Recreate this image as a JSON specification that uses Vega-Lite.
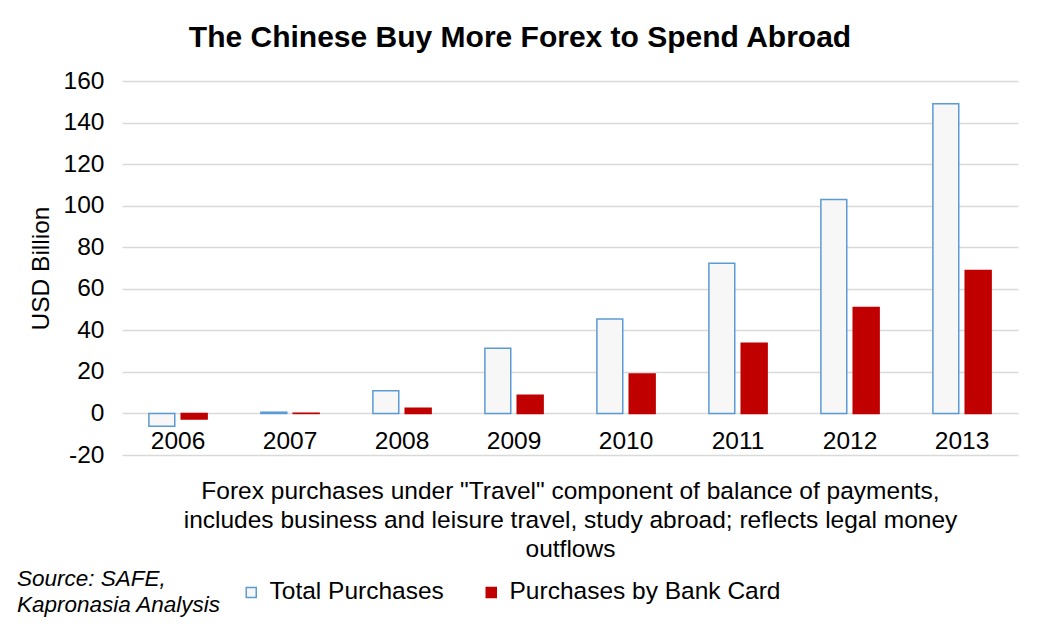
{
  "$schema": "https://vega.github.io/schema/vega-lite/v6.json",
  "width": 896,
  "height": 374,
  "autosize": {"type": "none"},
  "padding": {"left": 122, "top": 81, "right": 24, "bottom": 176},
  "background": "white",
  "config": {
    "view": {"stroke": null},
    "font": "Liberation Sans"
  },
  "title": {
    "text": "The Chinese Buy More Forex to Spend Abroad",
    "fontSize": 30,
    "fontWeight": "bold",
    "font": "Liberation Sans",
    "color": "black",
    "anchor": "middle",
    "dx": -50,
    "offset": 15
  },
  "data": {
    "values": [
      {"year": "2006", "series": "Total Purchases", "value": -6.2},
      {"year": "2006", "series": "Purchases by Bank Card", "value": -2.7},
      {"year": "2007", "series": "Total Purchases", "value": 0.6},
      {"year": "2007", "series": "Purchases by Bank Card", "value": 0.1},
      {"year": "2008", "series": "Total Purchases", "value": 10.9},
      {"year": "2008", "series": "Purchases by Bank Card", "value": 2.5},
      {"year": "2009", "series": "Total Purchases", "value": 31.4},
      {"year": "2009", "series": "Purchases by Bank Card", "value": 8.8},
      {"year": "2010", "series": "Total Purchases", "value": 45.4},
      {"year": "2010", "series": "Purchases by Bank Card", "value": 19.0},
      {"year": "2011", "series": "Total Purchases", "value": 72.3},
      {"year": "2011", "series": "Purchases by Bank Card", "value": 33.8},
      {"year": "2012", "series": "Total Purchases", "value": 103.0},
      {"year": "2012", "series": "Purchases by Bank Card", "value": 51.0},
      {"year": "2013", "series": "Total Purchases", "value": 149.0},
      {"year": "2013", "series": "Purchases by Bank Card", "value": 68.8}
    ]
  },
  "mark": {"type": "bar", "strokeWidth": 1.5},
  "encoding": {
    "x": {
      "field": "year",
      "type": "nominal",
      "scale": {"paddingInner": 0.48, "paddingOuter": 0.24},
      "axis": {
        "offset": -41.6,
        "domain": false,
        "ticks": false,
        "labelAngle": 0,
        "labelFontSize": 24.5,
        "labelColor": "black",
        "labelPadding": 16,
        "title": [
          "Forex purchases under \"Travel\" component of balance of payments,",
          "includes business and leisure travel, study abroad; reflects legal money",
          "outflows"
        ],
        "titleFontSize": 24.5,
        "titleFontWeight": "normal",
        "titleColor": "black",
        "titleLineHeight": 29,
        "titleBaseline": "top",
        "titleLimit": 1000,
        "titleY": 66
      }
    },
    "xOffset": {
      "field": "series",
      "type": "nominal",
      "sort": ["Total Purchases", "Purchases by Bank Card"],
      "scale": {"paddingInner": 0.2}
    },
    "y": {
      "field": "value",
      "type": "quantitative",
      "scale": {"domain": [-20, 160], "nice": false},
      "axis": {
        "values": [-20, 0, 20, 40, 60, 80, 100, 120, 140, 160],
        "labelExpr": "toString(datum.value)",
        "domain": false,
        "ticks": false,
        "gridColor": "#d9d9d9",
        "gridWidth": 1.5,
        "labelFontSize": 24.5,
        "labelColor": "black",
        "labelPadding": 18,
        "title": "USD Billion",
        "titleFontSize": 24.5,
        "titleFontWeight": "normal",
        "titleColor": "black",
        "titlePadding": 10
      }
    },
    "fill": {
      "field": "series",
      "type": "nominal",
      "sort": ["Total Purchases", "Purchases by Bank Card"],
      "scale": {"range": ["#f7f7f7", "#c00000"]},
      "legend": {
        "orient": "none",
        "direction": "horizontal",
        "legendX": -105,
        "legendY": 499,
        "title": ["Source: SAFE,", "Kapronasia Analysis"],
        "titleOrient": "left",
        "titleFontStyle": "italic",
        "titleFontWeight": "normal",
        "titleFontSize": 22.5,
        "titleColor": "black",
        "titleLineHeight": 26,
        "titleLimit": 400,
        "titlePadding": 18,
        "symbolType": "square",
        "symbolSize": 100,
        "symbolStrokeWidth": 1.5,
        "labelFontSize": 24.5,
        "labelColor": "black",
        "labelLimit": 400,
        "labelOffset": 6,
        "columnPadding": 35,
        "encode": {
          "symbols": {
            "update": {
              "stroke": {"scale": "stroke", "field": "value"}
            }
          }
        }
      }
    },
    "stroke": {
      "field": "series",
      "type": "nominal",
      "sort": ["Total Purchases", "Purchases by Bank Card"],
      "scale": {"range": ["#5b9bd5", "#c00000"]},
      "legend": null
    }
  }
}
